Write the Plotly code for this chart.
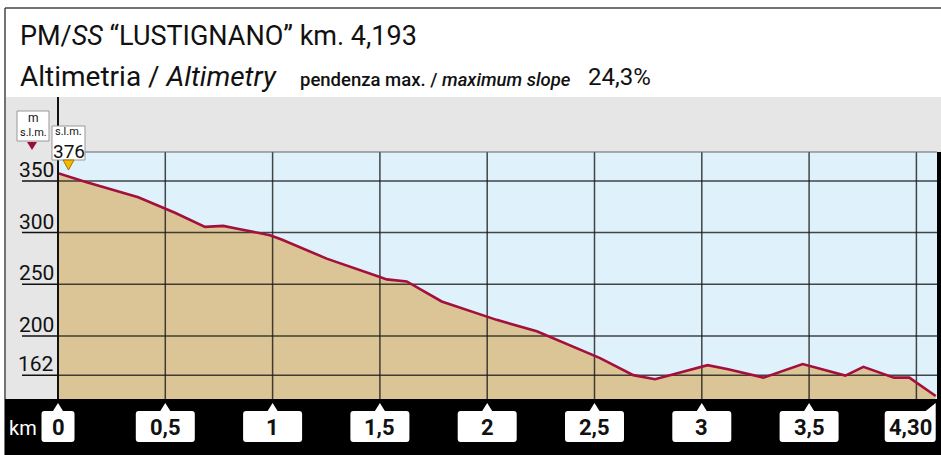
import plotly.graph_objects as go

# Altimetric profile: distance from start (km) and altitude (m a.s.l.)
KM = [0.0, 0.126, 0.374, 0.545, 0.685, 0.770, 0.848, 0.988, 1.042, 1.252,
      1.500, 1.532, 1.625, 1.788, 2.044, 2.231, 2.526, 2.681, 2.782, 3.027,
      3.123, 3.287, 3.470, 3.669, 3.753, 3.896, 3.967, 4.090]
ALT = [357.5, 349.3, 334.1, 319.2, 305.5, 306.5, 303.3, 297.5, 293.3, 274.8,
       256.9, 254.7, 252.7, 233.3, 215.5, 204.4, 178.5, 162.0, 158.1, 171.7,
       167.8, 159.6, 172.7, 161.6, 170.0, 159.6, 159.6, 141.8]

KM_TICKS = [0, 0.5, 1, 1.5, 2, 2.5, 3, 3.5]
KM_TICK_TEXT = ["0", "0,5", "1", "1,5", "2", "2,5", "3", "3,5"]
KM_GRID = [0.5, 1, 1.5, 2, 2.5, 3, 3.5, 4]
END_LABEL = "4,30"
ALT_TICKS = [162, 200, 250, 300, 350]
TOP_ALT = "376"

TITLE = 'PM/<i>SS</i> “LUSTIGNANO” km. 4,193'
SUBTITLE = 'Altimetria / <i>Altimetry</i>'
SLOPE_CAPTION = 'pendenza max. / <i>maximum slope</i>'
SLOPE_VALUE = '24,3%'

# axis extents
X_RANGE = [0, 4.096]
Y_RANGE = [138.9, 378.0]

# figure geometry (pixels)
W, H = 941, 455
ML, MR, MT, MB = 58, 4, 152, 56
PW, PH = W - ML - MR, H - MT - MB

FONT = "Roboto"
C_SKY = "#dff2fb"
C_GROUND = "#dbc596"
C_LINE = "#a3103c"
C_PANEL = "#e6e6e6"
C_GRID = "rgba(25,25,25,0.8)"


def px(x):
    return (x - ML) / PW


def py(y):
    return (H - MB - y) / PH


def text(x, y, s, size, xanchor="center", yanchor="middle", color="#111",
         weight="normal", xref="paper", yref="paper", **kw):
    return dict(x=x, y=y, xref=xref, yref=yref, text=s, showarrow=False,
                xanchor=xanchor, yanchor=yanchor, borderpad=0,
                font=dict(family=FONT, size=size, color=color, weight=weight),
                **kw)


fig = go.Figure()

# ground fill
fig.add_trace(go.Scatter(x=KM, y=ALT, mode="lines", fill="tozeroy",
                         fillcolor=C_GROUND, line=dict(width=0),
                         hoverinfo="skip", showlegend=False))

# grid drawn over the ground, under the profile line
gx, gy = [], []
for g in KM_GRID:
    gx += [g, g, None]
    gy += [Y_RANGE[0], Y_RANGE[1], None]
for t in ALT_TICKS:
    gx += [X_RANGE[0], X_RANGE[1], None]
    gy += [t, t, None]
fig.add_trace(go.Scatter(x=gx, y=gy, mode="lines",
                         line=dict(color=C_GRID, width=1.5),
                         hoverinfo="skip", showlegend=False))

# profile line
fig.add_trace(go.Scatter(x=KM, y=ALT, mode="lines",
                         line=dict(color=C_LINE, width=2.6),
                         showlegend=False))

shapes = []
# grey header strip and left altitude panel
shapes.append(dict(type="rect", xref="paper", yref="paper", layer="below",
                   x0=px(6), x1=px(W), y0=py(97), y1=py(MT),
                   fillcolor=C_PANEL, line=dict(width=0)))
shapes.append(dict(type="rect", xref="paper", yref="paper", layer="below",
                   x0=px(6), x1=px(ML), y0=py(H - MB), y1=py(MT),
                   fillcolor=C_PANEL, line=dict(width=0)))
# outer frame
shapes.append(dict(type="line", xref="paper", yref="paper",
                   x0=px(5), x1=px(W), y0=py(8), y1=py(8),
                   line=dict(color="#444", width=1.5)))
shapes.append(dict(type="line", xref="paper", yref="paper",
                   x0=px(5), x1=px(5), y0=py(8), y1=py(H),
                   line=dict(color="#444", width=1.5)))
# top edge of the plot
shapes.append(dict(type="line", xref="paper", yref="paper",
                   x0=0, x1=1, y0=1, y1=1,
                   line=dict(color="#666", width=1)))
# underline of each altitude label in the left panel
for t in ALT_TICKS:
    shapes.append(dict(type="line", xref="paper", yref="y",
                       x0=px(22), x1=0, y0=t, y1=t,
                       line=dict(color="#111", width=1.5)))
# black band for the distance axis and right edge bar
shapes.append(dict(type="rect", xref="paper", yref="paper", layer="above",
                   x0=px(5), x1=px(W), y0=py(H), y1=py(H - MB),
                   fillcolor="black", line=dict(width=0)))
shapes.append(dict(type="rect", xref="paper", yref="paper", layer="above",
                   x0=1, x1=px(W), y0=py(H - MB), y1=py(MT),
                   fillcolor="black", line=dict(width=0)))
# vertical axis line
shapes.append(dict(type="line", xref="paper", yref="paper",
                   x0=0, x1=0, y0=py(97), y1=py(H - MB),
                   line=dict(color="#111", width=2)))


def tick_box(w, h=31, gap=8, ptr=5, r=3, align="center"):
    """Rounded label box with a pointer; pixel offsets from the pointer tip."""
    top, bot = -gap, -gap - h
    if align == "center":
        xl, xr = -w / 2, w / 2
        return (f"M{xl + r},{top} L{-ptr},{top} L0,0 L{ptr},{top} "
                f"L{xr - r},{top} Q{xr},{top} {xr},{top - r} "
                f"L{xr},{bot + r} Q{xr},{bot} {xr - r},{bot} "
                f"L{xl + r},{bot} Q{xl},{bot} {xl},{bot + r} "
                f"L{xl},{top - r} Q{xl},{top} {xl + r},{top} Z")
    xl, xr = -w, 0
    return (f"M{xl + r},{top} L{-2 * ptr},{top} L0,0 "
            f"L{xr},{bot + r} Q{xr},{bot} {xr - r},{bot} "
            f"L{xl + r},{bot} Q{xl},{bot} {xl},{bot + r} "
            f"L{xl},{top - r} Q{xl},{top} {xl + r},{top} Z")


TIP_Y = py(403)
BOX_MID_Y = py(427.5)
annotations = []
for k, lab in zip(KM_TICKS, KM_TICK_TEXT):
    at_start = k == X_RANGE[0]
    w = 33 if at_start else 59
    # the box at the start of the axis sits half outside the plot, so it is
    # anchored to the axis domain edge to avoid clipping
    shapes.append(dict(type="path",
                       xref="x domain" if at_start else "x", yref="paper",
                       xsizemode="pixel", ysizemode="pixel",
                       xanchor=0 if at_start else k, yanchor=TIP_Y,
                       path=tick_box(w),
                       fillcolor="white", line=dict(width=0), layer="above"))
    annotations.append(text(k, BOX_MID_Y, lab, 22, xref="x", weight="bold"))
# end-of-climb label at the last profile point
shapes.append(dict(type="path", xref="x", yref="paper",
                   xsizemode="pixel", ysizemode="pixel",
                   xanchor=KM[-1], yanchor=TIP_Y,
                   path=tick_box(51, align="right"),
                   fillcolor="white", line=dict(width=0), layer="above"))
annotations.append(text(KM[-1], BOX_MID_Y, END_LABEL, 22, xref="x",
                        weight="bold", xshift=-25))
annotations.append(text(px(8), py(428), "km", 20, xanchor="left",
                        color="white"))

# altitude labels
for t in ALT_TICKS:
    annotations.append(text(px(55), t, str(t), 21, xanchor="right",
                            yanchor="bottom", yref="y", yshift=-2))

# unit badge "m s.l.m." with marker
shapes.append(dict(type="rect", xref="paper", yref="paper", layer="above",
                   x0=px(17), x1=px(49), y0=py(141), y1=py(111),
                   fillcolor="white", line=dict(color="#999", width=1)))
shapes.append(dict(type="path", xref="paper", yref="paper", layer="above",
                   path=f"M{px(27)},{py(142)} L{px(37)},{py(142)} "
                        f"L{px(32)},{py(150)} Z",
                   fillcolor="#9b1030", line=dict(width=0)))
annotations.append(text(px(33), py(117.5), "m", 12))
annotations.append(text(px(33), py(132.5), "s.l.m.", 11))

# highest point badge
shapes.append(dict(type="rect", xref="paper", yref="paper", layer="above",
                   x0=px(52), x1=px(85), y0=py(160), y1=py(126),
                   fillcolor="white", line=dict(color="#999", width=1)))
shapes.append(dict(type="path", xref="paper", yref="paper", layer="above",
                   path=f"M{px(63)},{py(160)} L{px(74)},{py(160)} "
                        f"L{px(68.5)},{py(170)} Z",
                   fillcolor="#f7b900", line=dict(color="#a07800", width=1)))
annotations.append(text(px(68.5), py(132), "s.l.m.", 11))
annotations.append(text(px(68.5), py(151), TOP_ALT, 19))

# headings
annotations.append(text(px(19), py(36), TITLE, 27, xanchor="left"))
annotations.append(text(px(19), py(77), SUBTITLE, 28, xanchor="left"))
annotations.append(text(px(299), py(80), SLOPE_CAPTION, 18.5,
                        xanchor="left", weight=500))
annotations.append(text(px(587), py(77), SLOPE_VALUE, 24, xanchor="left"))

fig.update_layout(
    width=W, height=H,
    margin=dict(l=ML, r=MR, t=MT, b=MB, pad=0),
    paper_bgcolor="white", plot_bgcolor=C_SKY,
    xaxis=dict(range=X_RANGE, visible=False, fixedrange=True),
    yaxis=dict(range=Y_RANGE, visible=False, fixedrange=True),
    shapes=shapes, annotations=annotations,
    showlegend=False, hovermode=False,
)

fig.write_html("out.html", config={"displayModeBar": False})
